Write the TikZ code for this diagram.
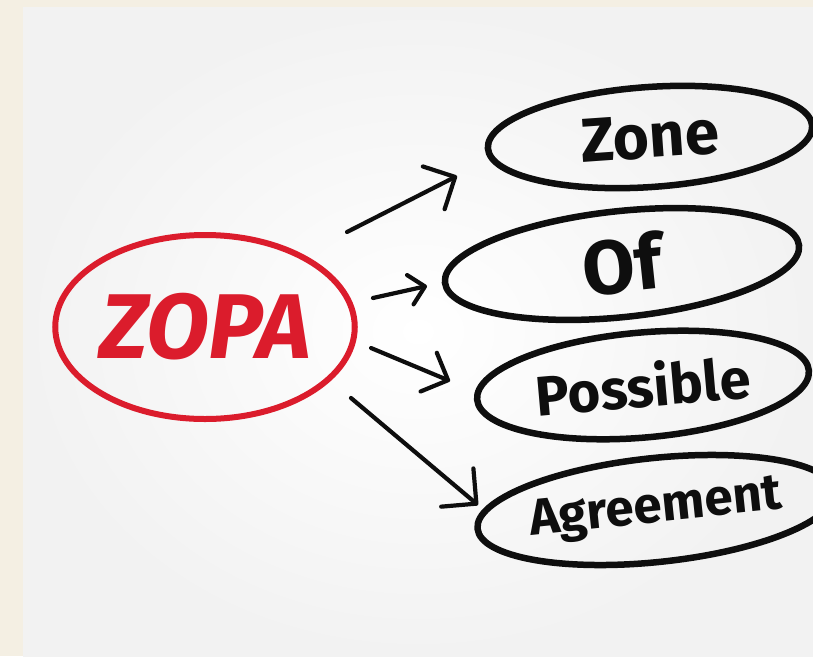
\documentclass[tikz,border=0pt]{standalone}
\usepackage{fontspec}
\setmainfont{Fira Sans}
\usetikzlibrary{shapes.geometric,arrows.meta,calc}
\definecolor{cream}{RGB}{244,239,227}
\definecolor{panelgray}{RGB}{242,242,242}
\definecolor{inkred}{RGB}{219,28,44}
\definecolor{ink}{RGB}{14,14,14}
\newcommand{\wordsize}[1]{\bfseries\fontsize{#1}{#1}\selectfont}
\begin{document}
\begin{tikzpicture}[x=1pt,y=-1pt,
  bubble/.style={ellipse, draw=ink, line width=6.5pt, inner sep=0pt, text=ink},
  arr/.style={draw=ink, line width=4.2pt, line cap=round, line join=round,
    -{Straight Barb[length=#1, width=2*#1, line width=4.2pt, round]}},
  arr/.default=24pt
]
\useasboundingbox (0,0) rectangle (813,656);
\begin{scope}
\clip (0,0) rectangle (813,656);
% paper and shaded panel
\fill[cream] (0,0) rectangle (813,656);
\shade[inner color=white, outer color=panelgray] (23,7) rectangle (813,656);

% central red bubble
\node[bubble, draw=inkred, line width=6pt, minimum width=294pt, minimum height=184pt,
  text=inkred, font=\wordsize{92}\itshape] (zopa) at (205,327) {ZOPA};

% the four words
\node[bubble, rotate=4, minimum width=325pt, minimum height=100pt,
  font=\wordsize{62}] (zone) at (650,137) {Zone};
\node[bubble, rotate=6, minimum width=356pt, minimum height=106pt,
  font=\wordsize{76}] (of) at (622,264) {Of};
\node[bubble, rotate=5, minimum width=333pt, minimum height=105pt,
  font=\wordsize{56}] (possible) at (643,385) {Possible};
\node[bubble, rotate=6, minimum width=312pt, minimum height=104pt,
  font=\wordsize{51}] (agree) at (656,510) {Agreement};

% arrow ends
\coordinate (t1) at ($(zopa.center)+(142,-95)$);
\coordinate (h1) at ($(zone.center)+(-193,39)$);
\coordinate (t2) at ($(zopa.center)+(168,-29)$);
\coordinate (h2) at ($(of.center)+(-195,22)$);
\coordinate (t3) at ($(zopa.center)+(166,21)$);
\coordinate (h3) at ($(possible.center)+(-193,-4)$);
\coordinate (t4) at ($(zopa.center)+(146,71)$);
\coordinate (h4) at ($(agree.center)+(-178,-5)$);

\draw[arr=24pt] (t1) -- (h1);
\draw[arr=15pt] (t2) -- (h2);
\draw[arr=21pt] (t3) -- (h3);
\draw[arr=25pt] (t4) -- (h4);
\end{scope}
\end{tikzpicture}
\end{document}
